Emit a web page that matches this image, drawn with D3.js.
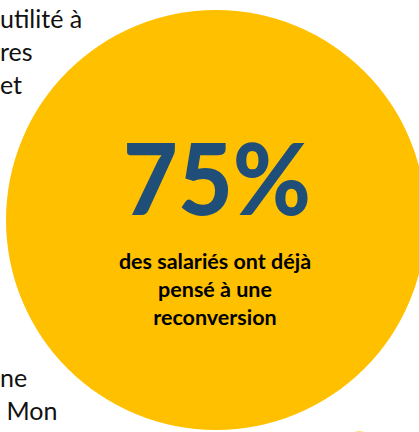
<!DOCTYPE html>
<html>
<head>
<meta charset="utf-8">
<script src="https://cdn.jsdelivr.net/npm/d3@7"></script>
<style>
  html, body { margin: 0; padding: 0; background: #fff; }
  svg { display: block; }
</style>
</head>
<body>
<div id="chart"></div>
<script>
// chart data
var statValue = [75];
var statSuffix = '%';
var labelLines = ['des salariés ont déjà', 'pensé à une', 'reconversion'];
var sideTop = ['utilité à', 'res', 'et'];
var sideBottom = ['ne', ' Mon'];
var cornerWord = ['CE'];

var W = 419, H = 432;
var GOLD = '#FFC000';
var NAVY = '#1F4E79';
var FONT = 'Lato, "Open Sans", sans-serif';

var svg = d3.select('#chart').append('svg')
  .attr('width', W)
  .attr('height', H);

// radius scale: the disc is the whole 100 %
var r = d3.scaleSqrt().domain([0, 100]).range([0, 210]);
var cx = 216, cy = 220;

// text lines on the left, behind the disc
var lineY = d3.scaleLinear().domain([0, 1]).range([0, 33]);

svg.append('g').selectAll('text')
  .data(sideTop)
  .enter().append('text')
    .attr('x', 0)
    .attr('y', function(d, i){ return 28 + lineY(i); })
    .attr('font-family', FONT)
    .attr('font-size', 25)
    .attr('fill', '#111')
    .attr('xml:space', 'preserve')
    .text(function(d){ return d; });

svg.append('g').selectAll('text')
  .data(sideBottom)
  .enter().append('text')
    .attr('x', 0)
    .attr('y', function(d, i){ return 387 + lineY(i); })
    .attr('font-family', FONT)
    .attr('font-size', 25)
    .attr('fill', '#111')
    .attr('xml:space', 'preserve')
    .text(function(d){ return d; });

// the disc
svg.append('circle')
  .attr('cx', cx)
  .attr('cy', cy)
  .attr('r', r(100))
  .attr('fill', GOLD);

// big number
svg.append('text')
  .data(statValue)
  .attr('x', 217)
  .attr('y', 215)
  .attr('text-anchor', 'middle')
  .attr('font-family', FONT)
  .attr('font-weight', 900)
  .attr('font-size', 100)
  .attr('fill', NAVY)
  .attr('textLength', 188)
  .attr('lengthAdjust', 'spacingAndGlyphs')
  .text(function(d){ return d + statSuffix; });

// label under the number
var labelY = d3.scaleLinear().domain([0, 1]).range([269, 297]);

svg.append('g').selectAll('text')
  .data(labelLines)
  .enter().append('text')
    .attr('x', 215)
    .attr('y', function(d, i){ return labelY(i); })
    .attr('text-anchor', 'middle')
    .attr('font-family', FONT)
    .attr('font-weight', 700)
    .attr('font-size', 21.5)
    .attr('fill', '#000')
    .text(function(d){ return d; });

// big gold word peeking in at the bottom right
svg.append('text')
  .data(cornerWord)
  .attr('x', 331)
  .attr('y', 485)
  .attr('font-family', FONT)
  .attr('font-weight', 900)
  .attr('font-size', 72)
  .attr('letter-spacing', 4)
  .attr('fill', GOLD)
  .text(function(d){ return d; });
</script>
</body>
</html>
